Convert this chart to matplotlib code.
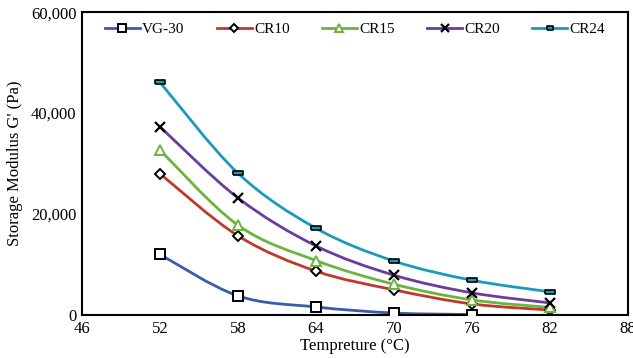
import matplotlib
matplotlib.use('Agg')
import matplotlib.pyplot as plt
from matplotlib.path import Path
from matplotlib.patches import PathPatch
from matplotlib.lines import Line2D
from matplotlib.ticker import FuncFormatter

plt.rcParams['font.family'] = ['Liberation Serif', 'DejaVu Serif']

temps = [52, 58, 64, 70, 76, 82]
vg30 = [12000, 3800, 1600, 400, 100]
cr10 = [28000, 15700, 8700, 5000, 2200, 1000]
cr15 = [32700, 17800, 10800, 6100, 3000, 1500]
cr20 = [37300, 23200, 13700, 7900, 4400, 2400]
cr24 = [46100, 28100, 17200, 10700, 6900, 4600]

names = ['VG-30', 'CR10', 'CR15', 'CR20', 'CR24']
series = [vg30, cr10, cr15, cr20, cr24]
colors = ['#3b5cab', '#c0392b', '#6db33f', '#6a3d9a', '#1b9bb8']

rect = [(-1, -0.5), (1, -0.5), (1, 0.5), (-1, 0.5), (-1, -0.5)]
markers = [dict(marker='s', mfc='white', mec='black', ms=7, mew=1.4),
           dict(marker='D', mfc='white', mec='black', ms=5.5, mew=1.4),
           dict(marker='^', mfc='white', mec='#6db33f', ms=7.5, mew=1.4),
           dict(marker='x', mfc='none', mec='black', ms=7, mew=1.6),
           dict(marker=rect, mfc='#1b9bb8', mec='black', ms=6.5, mew=1.2)]
legend_ms = [6, 4.5, 6, 6, 5]


def smooth_path(xs, ys):
    # excel-style smoothed line: catmull-rom turned into cubic beziers
    pts = list(zip(xs, ys))
    verts = [pts[0]]
    codes = [Path.MOVETO]
    for i in range(len(pts) - 1):
        p0 = pts[i - 1] if i > 0 else pts[i]
        p1 = pts[i]
        p2 = pts[i + 1]
        p3 = pts[i + 2] if i + 2 < len(pts) else pts[i + 1]
        c1 = (p1[0] + (p2[0] - p0[0]) / 6, p1[1] + (p2[1] - p0[1]) / 6)
        c2 = (p2[0] - (p3[0] - p1[0]) / 6, p2[1] - (p3[1] - p1[1]) / 6)
        verts += [c1, c2, p2]
        codes += [Path.CURVE4] * 3
    return Path(verts, codes)


fig = plt.figure(figsize=(6.33, 3.58), dpi=100)
ax = fig.add_axes([0.1295, 0.12, 0.8625, 0.846])

handles = []
for name, ys, c, m, lms in zip(names, series, colors, markers, legend_ms):
    xs = temps[:len(ys)]
    ax.add_patch(PathPatch(smooth_path(xs, ys), fc='none', ec=c, lw=2.0, zorder=2))
    ax.plot(xs, ys, ls='none', zorder=3, **m)
    lm = dict(m, ms=lms)
    handles.append(Line2D([], [], color=c, lw=2.0, **lm))

ax.set_xlim(46, 88)
ax.set_ylim(0, 60000)
ax.set_xticks(range(46, 89, 6))
ax.set_yticks(range(0, 60001, 20000))
ax.yaxis.set_major_formatter(FuncFormatter(lambda v, p: f'{int(v):,}'))
ax.tick_params(length=0, labelsize=12, pad=4)
for s in ax.spines.values():
    s.set_linewidth(1.5)

ax.set_xlabel('Tempreture (°C)', fontsize=12, labelpad=1)
ax.set_ylabel("Storage Modulus G' (Pa)", fontsize=12, labelpad=6)

ax.legend(handles, names, loc='upper center', ncol=5, frameon=False,
          fontsize=11, handlelength=2.3, columnspacing=2.1, handletextpad=0.15,
          bbox_to_anchor=(0.5, 1.012))

fig.savefig('out.png', dpi=100)
